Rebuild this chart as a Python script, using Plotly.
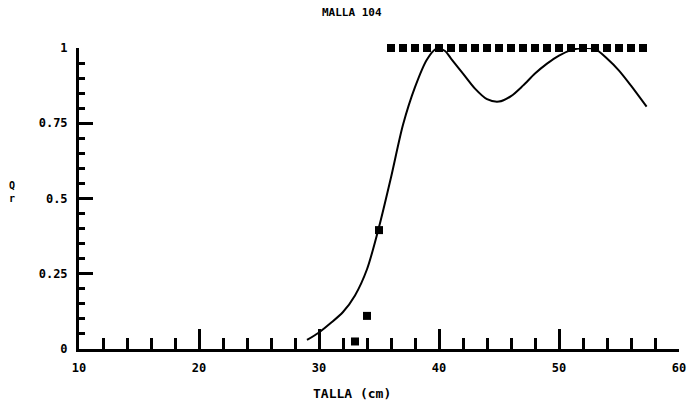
import plotly.graph_objects as go

# Observed retention by length class (cm)
obs_talla = [33, 34, 35, 36, 37, 38, 39, 40, 41, 42, 43, 44, 45, 46, 47,
             48, 49, 50, 51, 52, 53, 54, 55, 56, 57]
obs_q = [0.025, 0.11, 0.395, 1, 1, 1, 1, 1, 1, 1, 1, 1, 1, 1, 1,
         1, 1, 1, 1, 1, 1, 1, 1, 1, 1]

# Fitted selectivity curve
fit_talla = [29.0, 30, 31, 32, 33, 34, 35, 36, 37, 38, 39, 39.8, 40.5, 41, 42,
             43, 44, 45, 46, 47, 48, 49, 50, 51, 52, 53, 54, 55, 56, 57.3]
fit_q = [0.03, 0.055, 0.087, 0.123, 0.178, 0.265, 0.405, 0.57, 0.745, 0.87,
         0.962, 0.998, 0.99, 0.965, 0.915, 0.865, 0.83, 0.822, 0.84, 0.875,
         0.915, 0.948, 0.975, 0.993, 1.0, 0.997, 0.965, 0.925, 0.875, 0.805]

x_ticks = [10, 20, 30, 40, 50, 60]
y_ticks = [0, 0.25, 0.5, 0.75, 1]
y_ticktext = ["0", "0.25", "0.5", "0.75", "1"]

FONT = dict(family="DejaVu Sans Mono", size=12, color="black", weight="bold")

fig = go.Figure()
fig.add_trace(go.Scatter(
    x=fit_talla, y=fit_q, mode="lines",
    line=dict(color="black", width=2, shape="spline", smoothing=0.8),
    cliponaxis=False, showlegend=False, hoverinfo="skip"))
fig.add_trace(go.Scatter(
    x=obs_talla, y=obs_q, mode="markers",
    marker=dict(symbol="square", size=8, color="black"),
    cliponaxis=False, showlegend=False))

fig.update_layout(
    width=698, height=407,
    margin=dict(l=79, r=13, t=48, b=58),
    plot_bgcolor="white", paper_bgcolor="white",
    font=FONT,
    xaxis=dict(
        range=[10, 60], tickvals=x_ticks, ticks="inside", ticklen=20,
        tickwidth=2.5, tickcolor="black", showline=True, linewidth=3,
        linecolor="black", showgrid=False, zeroline=False,
        ticklabelstandoff=6, tickfont=FONT,
        minor=dict(dtick=2, ticks="inside", ticklen=11, tickwidth=2.5,
                   tickcolor="black", showgrid=False)),
    yaxis=dict(
        range=[0, 1], tickvals=y_ticks, ticktext=y_ticktext, ticks="inside",
        ticklen=14, tickwidth=2.5, tickcolor="black", showline=True,
        linewidth=3, linecolor="black", showgrid=False, zeroline=False,
        ticklabelstandoff=6, tickfont=FONT,
        minor=dict(dtick=0.05, ticks="inside", ticklen=6, tickwidth=2.5,
                   tickcolor="black", showgrid=False)),
    annotations=[
        dict(text="MALLA 104", x=0.455, y=1, xref="paper", yref="paper",
             showarrow=False, font=dict(FONT, size=11), yshift=36,
             yanchor="middle", xanchor="center"),
        dict(text="TALLA (cm)", x=0.455, y=0, xref="paper", yref="paper",
             showarrow=False, font=dict(FONT, size=13), yanchor="middle",
             xanchor="center", yshift=-44),
        dict(text="Q<br>r", x=0, y=0.52, xref="paper", yref="paper",
             showarrow=False, font=dict(FONT, size=10),
             xanchor="center", yanchor="middle", xshift=-67),
    ],
)

fig.write_html("out.html")
